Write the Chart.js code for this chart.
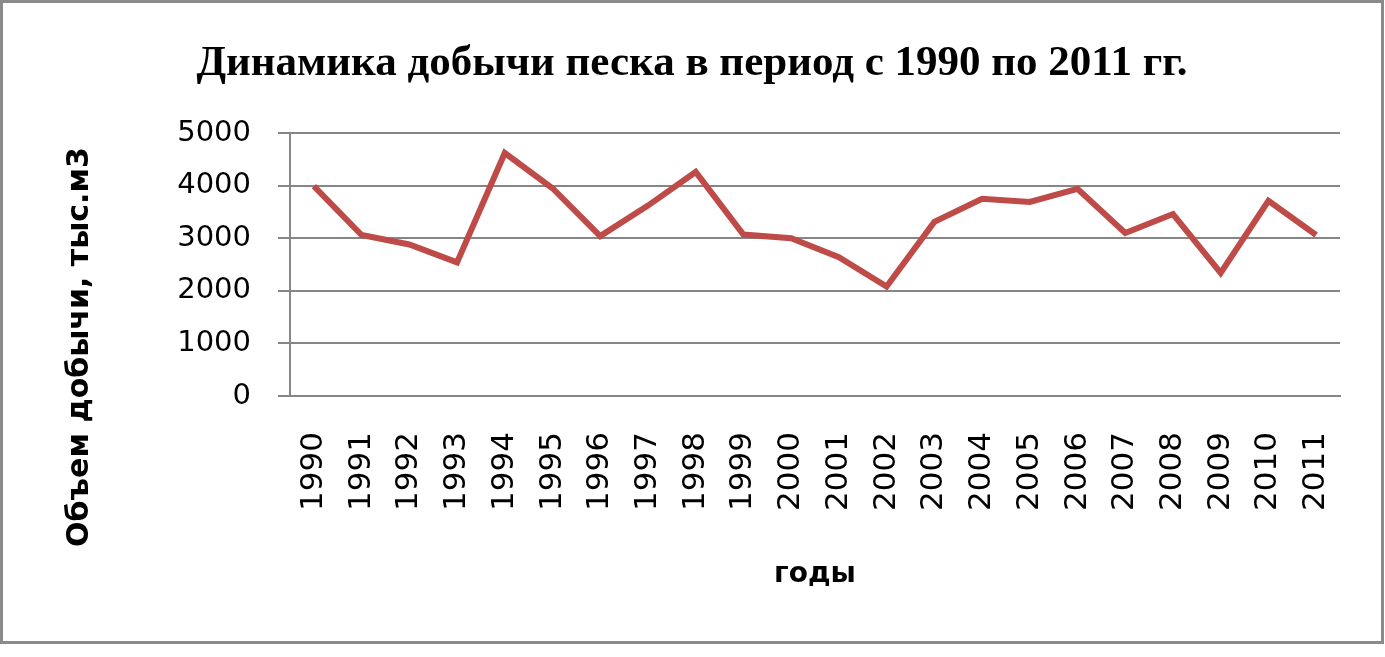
<!DOCTYPE html>
<html>
<head>
<meta charset="utf-8">
<script src="https://cdn.jsdelivr.net/npm/chart.js@4/dist/chart.umd.min.js"></script>
<style>
  html, body { margin: 0; padding: 0; background: #fff; }
  canvas { display: block; }
</style>
</head>
<body>
<canvas id="myChart" width="1385" height="657"></canvas>
<script>
const years = ['1990', '1991', '1992', '1993', '1994', '1995', '1996', '1997', '1998', '1999', '2000',
    '2001', '2002', '2003', '2004', '2005', '2006', '2007', '2008', '2009', '2010', '2011'];
const volumes = [3990, 3060, 2880, 2540, 4620, 3950, 3040, 3620, 4260, 3070, 3000,
    2640, 2080, 3310, 3750, 3690, 3940, 3100, 3460, 2340, 3710, 3060];
const yTicks = [0, 1000, 2000, 3000, 4000, 5000];

const titleText = 'Динамика добычи песка в период с 1990 по 2011 гг.';
const yTitle = 'Объем добычи, тыс.м3';
const xTitle = 'годы';

// grey frame, chart title and the vertical axis title
const decor = {
    id: 'decor',
    afterDraw(chart) {
        const ctx = chart.ctx;
        ctx.save();
        ctx.strokeStyle = '#8a8a8a';
        ctx.lineWidth = 3;
        ctx.strokeRect(1.5, 1.5, 1381, 641);

        ctx.fillStyle = '#000';
        ctx.textAlign = 'center';
        ctx.textBaseline = 'middle';
        ctx.font = 'bold 43px "Liberation Serif", "Times New Roman", serif';
        ctx.fillText(titleText, 692, 64);

        ctx.translate(80, 347);
        ctx.rotate(-Math.PI / 2);
        ctx.font = 'bold 30px "DejaVu Sans", sans-serif';
        ctx.fillText(yTitle, 0, 0);
        ctx.restore();
    }
};

const ctx = document.getElementById('myChart');

new Chart(ctx, {
    type: 'line',
    plugins: [decor],
    data: {
        labels: years,
        datasets: [{
            label: 'Объем',
            data: volumes,
            borderColor: '#be4b48',
            backgroundColor: '#be4b48',
            borderWidth: 6,
            pointRadius: 0,
            tension: 0
        }]
    },
    options: {
        responsive: false,
        animation: false,
        devicePixelRatio: 1,
        layout: { padding: { left: 0, right: 45, top: 133, bottom: 0 } },
        plugins: {
            legend: { display: false },
            tooltip: { enabled: false },
            title: { display: false }
        },
        scales: {
            x: {
                offset: true,
                grid: { display: false, drawTicks: false },
                border: { display: true, color: '#868686', width: 2 },
                ticks: {
                    color: '#000',
                    font: { family: '"DejaVu Sans", sans-serif', size: 31 },
                    maxRotation: 90,
                    minRotation: 90,
                    padding: 36,
                    autoSkip: false
                },
                title: {
                    display: true,
                    text: xTitle,
                    color: '#000',
                    font: { family: '"DejaVu Sans", sans-serif', size: 28, weight: 'bold' },
                    padding: { top: 0, bottom: 65 }
                },
                afterFit(scale) {
                    scale.height = 261;
                    scale.paddingLeft = 0;
                    scale.paddingRight = 0;
                }
            },
            y: {
                min: 0,
                max: 5000,
                afterBuildTicks(scale) {
                    scale.ticks = yTicks.map(v => ({ value: v }));
                },
                grid: { color: '#868686', lineWidth: 2, tickLength: 12 },
                border: { display: true, color: '#868686', width: 2 },
                ticks: {
                    color: '#000',
                    font: { family: '"DejaVu Sans", sans-serif', size: 29 },
                    padding: 27,
                    callback: v => String(v)
                },
                afterFit(scale) {
                    scale.width = 290;
                }
            }
        }
    }
});
</script>
</body>
</html>
